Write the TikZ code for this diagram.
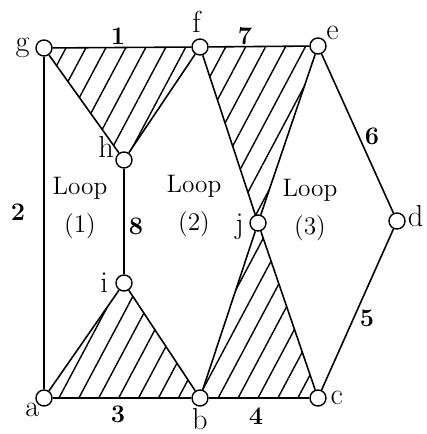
\documentclass[tikz,border=0pt]{standalone}
\usepackage{tikz}
\usetikzlibrary{positioning, patterns.meta}

\begin{document}
\begin{tikzpicture}[
        x=0.2mm, y=-0.2mm,
        vertex/.style={circle, draw, fill=white, line width=0.8pt, minimum size=3.2mm, inner sep=0pt},
        edge/.style={line width=0.9pt},
        hatch/.style={pattern={Lines[angle=62, distance=10pt, line width=0.8pt]}},
        vlabel/.style={font=\LARGE, inner sep=1pt},
        elabel/.style={font=\Large\bfseries, inner sep=1pt},
        looptext/.style={font=\Large, align=center, inner sep=1pt},
    ]
    \useasboundingbox (0,0) rectangle (426,434);

    % === VERTICES ===
    \coordinate (pg) at (44,48);
    \coordinate (pf) at (200,47);
    \coordinate (pe) at (318,46);
    \coordinate (ph) at (124,160);
    \coordinate (pi) at (124,283);
    \coordinate (pj) at (258,223);
    \coordinate (pd) at (397,221);
    \coordinate (pa) at (44,398);
    \coordinate (pb) at (200,398);
    \coordinate (pc) at (318,398);

    % === HATCHED TRIANGLES ===
    \fill[hatch] (pg) -- (pf) -- (ph) -- cycle;
    \fill[hatch] (pa) -- (pi) -- (pb) -- cycle;
    \fill[hatch] (pf) -- (pe) -- (pj) -- cycle;
    \fill[hatch] (pj) -- (pb) -- (pc) -- cycle;

    % === NODES ===
    \node[vertex] (g) at (pg) {};
    \node[vertex] (f) at (pf) {};
    \node[vertex] (e) at (pe) {};
    \node[vertex] (h) at (ph) {};
    \node[vertex] (i) at (pi) {};
    \node[vertex] (j) at (pj) {};
    \node[vertex] (d) at (pd) {};
    \node[vertex] (a) at (pa) {};
    \node[vertex] (b) at (pb) {};
    \node[vertex] (c) at (pc) {};

    % === EDGES ===
    \draw[edge] (g) -- (f);
    \draw[edge] (f) -- (e);
    \draw[edge] (g) -- (h);
    \draw[edge] (f) -- (h);
    \draw[edge] (g) -- (a);
    \draw[edge] (h) -- (i);
    \draw[edge] (i) -- (a);
    \draw[edge] (i) -- (b);
    \draw[edge] (a) -- (b);
    \draw[edge] (b) -- (c);
    \draw[edge] (f) -- (j);
    \draw[edge] (e) -- (j);
    \draw[edge] (j) -- (b);
    \draw[edge] (j) -- (c);
    \draw[edge] (e) -- (d);
    \draw[edge] (d) -- (c);

    % === VERTEX LABELS ===
    \node[vlabel, left=2pt of g] (lg) {g};
    \node[vlabel, above=2pt of f, xshift=-2pt] (lf) {f};
    \node[vlabel, above right=-1pt and 0pt of e] (le) {e};
    \node[vlabel, above left=-3pt and 1pt of h] (lh) {h};
    \node[vlabel, left=3pt of i] (li) {i};
    \node[vlabel, left=2pt of j, yshift=-2pt] (lj) {j};
    \node[vlabel, right=0pt of d, yshift=3pt] (ld) {d};
    \node[vlabel, below left=-2pt and -2pt of a] (la) {a};
    \node[vlabel, below=0pt of b] (lb) {b};
    \node[vlabel, right=1pt of c] (lc) {c};

    % === EDGE LABELS ===
    \node[elabel] (l1) at (118,36) {1};
    \node[elabel] (l7) at (245,36) {7};
    \node[elabel] (l2) at (18,212) {2};
    \node[elabel] (l8) at (136,226) {8};
    \node[elabel] (l3) at (118,414) {3};
    \node[elabel] (l4) at (256,416) {4};
    \node[elabel] (l6) at (372,136) {6};
    \node[elabel] (l5) at (367,318) {5};

    % === LOOPS ===
    \node[looptext] (loop1) at (80,208) {Loop\\[4pt](1)};
    \node[looptext] (loop2) at (194,206) {Loop\\[4pt](2)};
    \node[looptext] (loop3) at (310,210) {Loop\\[4pt](3)};
\end{tikzpicture}
\end{document}
